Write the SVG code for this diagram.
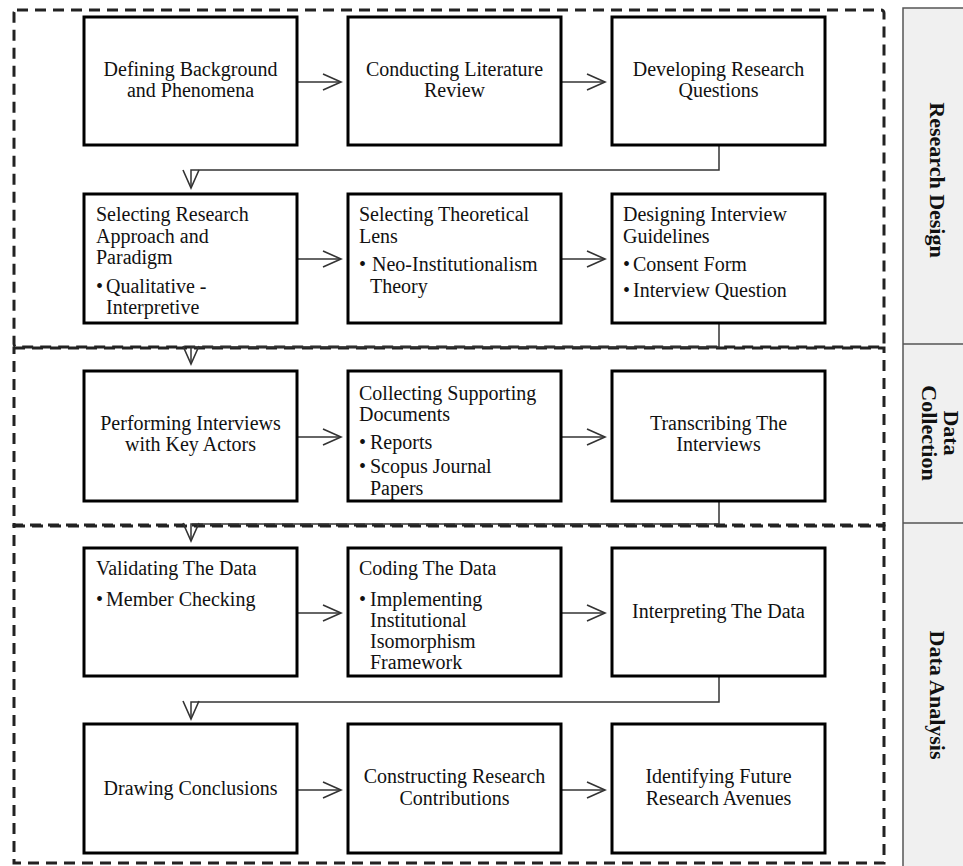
<svg xmlns="http://www.w3.org/2000/svg" width="963" height="866" viewBox="0 0 963 866">
<style>
.box{fill:#fff;stroke:#000;stroke-width:3}
.sec{fill:none;stroke:#222;stroke-width:3;stroke-dasharray:11 7}
.t{font-family:"Liberation Serif","Times New Roman",serif;font-size:20px;fill:#111}
.c{text-anchor:middle}
.lab{font-family:"Liberation Serif","Times New Roman",serif;font-size:22px;font-weight:bold;fill:#111;text-anchor:middle}
.con{fill:none;stroke:#333;stroke-width:1.5}
</style>
<defs>
<marker id="ah" markerUnits="userSpaceOnUse" markerWidth="22" markerHeight="20" viewBox="0 0 22 20" refX="20" refY="10" orient="auto">
<path d="M2,2 L20,10 L2,18" fill="none" stroke="#333" stroke-width="1.6"/>
</marker>
</defs>
<g id="side-panel">
<rect x="903" y="8" width="70" height="870" fill="#f0f0f0" stroke="#555" stroke-width="1.5"/>
<line x1="903" y1="344" x2="963" y2="344" stroke="#555" stroke-width="1.5"/>
<line x1="903" y1="523" x2="963" y2="523" stroke="#555" stroke-width="1.5"/>
<text class="lab" transform="translate(930,180) rotate(90)">Research Design</text>
<text class="lab" transform="translate(944,433) rotate(90)">Data</text>
<text class="lab" transform="translate(922,433) rotate(90)">Collection</text>
<text class="lab" transform="translate(930,695) rotate(90)">Data Analysis</text>
</g>
<g id="sections">
<rect class="sec" x="14" y="10" width="870" height="337" rx="3"/>
<rect class="sec" x="14" y="348" width="870" height="177"/>
<rect class="sec" x="14" y="526" width="870" height="337"/>
</g>
<g id="connectors">
<line class="con" x1="298" y1="82" x2="341" y2="82" marker-end="url(#ah)"/>
<line class="con" x1="561" y1="82" x2="605" y2="82" marker-end="url(#ah)"/>
<polyline class="con" points="719,145 719,170 191,170 191,188" marker-end="url(#ah)"/>
<line class="con" x1="298" y1="259" x2="341" y2="259" marker-end="url(#ah)"/>
<line class="con" x1="561" y1="259" x2="605" y2="259" marker-end="url(#ah)"/>
<polyline class="con" points="719,323 719,347 191,347 191,364" marker-end="url(#ah)"/>
<line class="con" x1="298" y1="437" x2="341" y2="437" marker-end="url(#ah)"/>
<line class="con" x1="561" y1="437" x2="605" y2="437" marker-end="url(#ah)"/>
<polyline class="con" points="719,501 719,524 191,524 191,541" marker-end="url(#ah)"/>
<line class="con" x1="298" y1="613" x2="341" y2="613" marker-end="url(#ah)"/>
<line class="con" x1="561" y1="613" x2="605" y2="613" marker-end="url(#ah)"/>
<polyline class="con" points="719,676 719,702 191,702 191,719" marker-end="url(#ah)"/>
<line class="con" x1="298" y1="790" x2="341" y2="790" marker-end="url(#ah)"/>
<line class="con" x1="561" y1="790" x2="605" y2="790" marker-end="url(#ah)"/>
</g>
<g id="n1"><rect class="box" x="84" y="17" width="213" height="128"/>
<text class="t c" x="190.5" y="76">Defining Background</text><text class="t c" x="190.5" y="97">and Phenomena</text></g>
<g id="n2"><rect class="box" x="348" y="17" width="213" height="128"/>
<text class="t c" x="454.5" y="76">Conducting Literature</text><text class="t c" x="454.5" y="97">Review</text></g>
<g id="n3"><rect class="box" x="612" y="17" width="213" height="128"/>
<text class="t c" x="718.5" y="76">Developing Research</text><text class="t c" x="718.5" y="97">Questions</text></g>
<g id="n4"><rect class="box" x="84" y="194" width="213" height="129"/>
<text class="t" x="96" y="221">Selecting Research</text><text class="t" x="96" y="243">Approach and</text><text class="t" x="96" y="264">Paradigm</text>
<text class="t" x="96" y="293">•</text><text class="t" x="106" y="293">Qualitative -</text><text class="t" x="106" y="314">Interpretive</text></g>
<g id="n5"><rect class="box" x="348" y="194" width="213" height="129"/>
<text class="t" x="359" y="221">Selecting Theoretical</text><text class="t" x="359" y="243">Lens</text>
<text class="t" x="359" y="271">•</text><text class="t" x="372" y="271">Neo-Institutionalism</text><text class="t" x="370" y="293">Theory</text></g>
<g id="n6"><rect class="box" x="612" y="194" width="213" height="129"/>
<text class="t" x="623" y="221">Designing Interview</text><text class="t" x="623" y="243">Guidelines</text>
<text class="t" x="623" y="271">•</text><text class="t" x="633" y="271">Consent Form</text>
<text class="t" x="623" y="297">•</text><text class="t" x="633" y="297">Interview Question</text></g>
<g id="n7"><rect class="box" x="84" y="371" width="213" height="130"/>
<text class="t c" x="190.5" y="430">Performing Interviews</text><text class="t c" x="190.5" y="451">with Key Actors</text></g>
<g id="n8"><rect class="box" x="348" y="371" width="213" height="130"/>
<text class="t" x="359" y="400">Collecting Supporting</text><text class="t" x="359" y="421">Documents</text>
<text class="t" x="359" y="449">•</text><text class="t" x="370" y="449">Reports</text>
<text class="t" x="359" y="473">•</text><text class="t" x="370" y="473">Scopus Journal</text><text class="t" x="370" y="495">Papers</text></g>
<g id="n9"><rect class="box" x="612" y="371" width="213" height="130"/>
<text class="t c" x="718.5" y="430">Transcribing The</text><text class="t c" x="718.5" y="451">Interviews</text></g>
<g id="n10"><rect class="box" x="84" y="548" width="213" height="128"/>
<text class="t" x="96" y="575">Validating The Data</text>
<text class="t" x="96" y="606">•</text><text class="t" x="106" y="606">Member Checking</text></g>
<g id="n11"><rect class="box" x="348" y="548" width="213" height="128"/>
<text class="t" x="359" y="575">Coding The Data</text>
<text class="t" x="359" y="606">•</text><text class="t" x="370" y="606">Implementing</text><text class="t" x="370" y="627">Institutional</text><text class="t" x="370" y="648">Isomorphism</text><text class="t" x="370" y="669">Framework</text></g>
<g id="n12"><rect class="box" x="612" y="548" width="213" height="128"/>
<text class="t c" x="718.5" y="618">Interpreting The Data</text></g>
<g id="n13"><rect class="box" x="84" y="724" width="213" height="129"/>
<text class="t c" x="190.5" y="795">Drawing Conclusions</text></g>
<g id="n14"><rect class="box" x="348" y="724" width="213" height="129"/>
<text class="t c" x="454.5" y="783">Constructing Research</text><text class="t c" x="454.5" y="805">Contributions</text></g>
<g id="n15"><rect class="box" x="612" y="724" width="213" height="129"/>
<text class="t c" x="718.5" y="783">Identifying Future</text><text class="t c" x="718.5" y="805">Research Avenues</text></g>
</svg>
